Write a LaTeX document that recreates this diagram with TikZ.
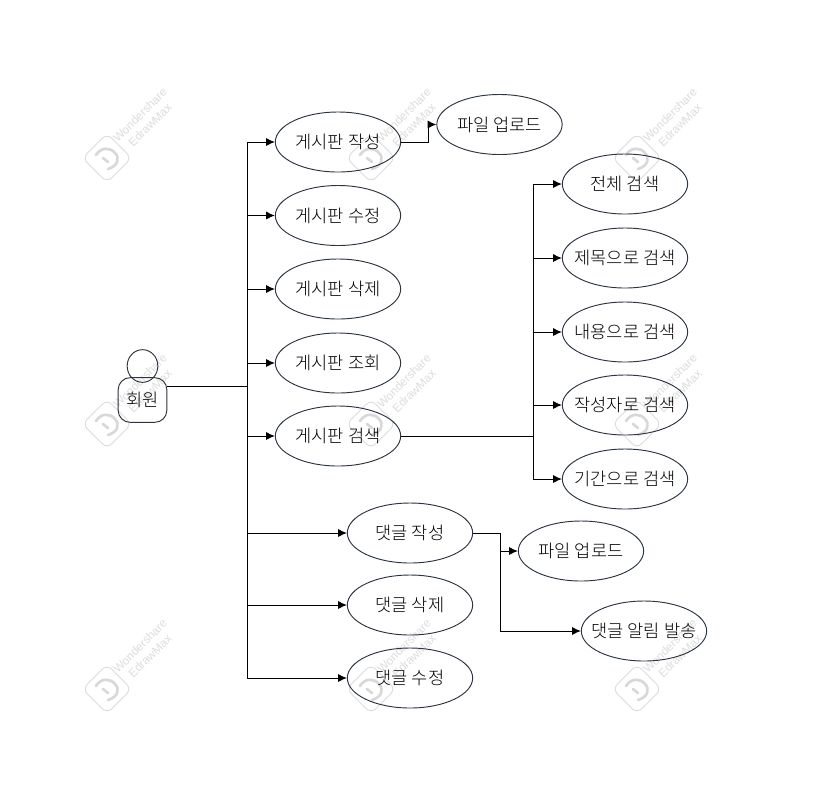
\documentclass[tikz,border=0pt]{standalone}
\usepackage{fontspec}
\setmainfont{Noto Sans CJK KR Light}
\newfontfamily\wmfont{Liberation Sans}
\usetikzlibrary{arrows.meta,shapes.geometric}
\definecolor{edgeink}{HTML}{2B3440}
\definecolor{wm}{HTML}{DDDDDD}
\definecolor{wmdark}{HTML}{D8D8D8}
\newcommand{\lbl}[1]{\makebox[0pt][c]{#1}}
\tikzset{
  x=0.75pt,y=-0.75pt,
  usecase/.style={draw=edgeink,line width=0.7pt,ellipse,minimum width=94pt,minimum height=45pt,inner sep=0pt,font=\fontsize{13.2}{15}\selectfont},
  wire/.style={draw=black,line width=0.75pt},
  arr/.style={wire,-{Latex[length=6.5pt,width=6pt]}},
  wmtext/.style={text=wm,font=\wmfont\fontsize{8.8}{10.5}\selectfont,rotate=45,align=center,inner sep=0pt},
  wmbox/.style={draw=wm,line width=0.7pt,rounded corners=5pt,rotate=45,minimum width=26pt,minimum height=26pt,inner sep=0pt},
  wmarc/.style={draw=wmdark,line width=2pt,line cap=round}
}
\newcommand{\wmark}[3]{%
  \node[wmbox] (wb#3) at (#1,#2) {};
  \draw[wmarc,shift={(wb#3.center)}] (-11,-3) .. controls (-6,-11) and (3,-11) .. (8,-5) .. controls (13,0) and (11,8) .. (1,11);
  \draw[wmarc,shift={(wb#3.center)}] (-4,0) -- (1,4);
  \node[wmtext] (wt#3) at ([shift={(38,-38)}]wb#3.center) {Wondershare\\EdrawMax};
}
\begin{document}
\begin{tikzpicture}
\useasboundingbox (0,0) rectangle (828,794);
\fill[white] (0,0) rectangle (828,794);
\wmark{107}{158}{a}
\wmark{371}{158}{b}
\wmark{637}{158}{c}
\wmark{107}{424}{d}
\wmark{371}{424}{e}
\wmark{637}{424}{f}
\wmark{107}{689}{g}
\wmark{371}{689}{h}
\wmark{637}{689}{i}

\node[draw=edgeink,line width=0.7pt,ellipse,minimum width=23pt,minimum height=24.5pt,inner sep=0pt] (head) at (142.5,366) {};
\node[draw=edgeink,line width=0.7pt,rounded corners=9pt,minimum width=36.5pt,minimum height=33.5pt,inner sep=0pt,font=\fontsize{13.2}{15}\selectfont] (actor) at (142.5,400) {\lbl{회원}};

\node[usecase] (b1) at (338,142) {\lbl{게시판 작성}};
\node[usecase] (b2) at (338,215.5) {\lbl{게시판 수정}};
\node[usecase] (b3) at (338,289) {\lbl{게시판 삭제}};
\node[usecase] (b4) at (338,363) {\lbl{게시판 조회}};
\node[usecase] (b5) at (338,436) {\lbl{게시판 검색}};
\node[usecase] (up1) at (499.5,124.5) {\lbl{파일 업로드}};
\node[usecase] (s1) at (625,184) {\lbl{전체 검색}};
\node[usecase] (s2) at (625,258) {\lbl{제목으로 검색}};
\node[usecase] (s3) at (625,332) {\lbl{내용으로 검색}};
\node[usecase] (s4) at (625,405) {\lbl{작성자로 검색}};
\node[usecase] (s5) at (625,479) {\lbl{기간으로 검색}};
\node[usecase] (c1) at (410,533) {\lbl{댓글 작성}};
\node[usecase] (c2) at (410,605) {\lbl{댓글 삭제}};
\node[usecase] (c3) at (410,678) {\lbl{댓글 수정}};
\node[usecase] (up2) at (581,551) {\lbl{파일 업로드}};
\node[usecase] (alarm) at (644,631) {\lbl{댓글 알림 발송}};

\coordinate (aout) at (167,386);
\coordinate (bus) at (247.5,386);
\coordinate (sbus) at (533.5,436);
\coordinate (cbus) at (500.5,533);
\coordinate (bout) at (428.5,142);
\draw[wire] (aout) -- (bus);
\draw[arr] (bus) |- (b1.west);
\draw[arr] (bus) |- (b2.west);
\draw[arr] (bus) |- (b3.west);
\draw[arr] (bus) |- (b4.west);
\draw[arr] (bus) |- (b5.west);
\draw[arr] (bus) |- (c1.west);
\draw[arr] (bus) |- (c2.west);
\draw[arr] (bus) |- (c3.west);
\draw[arr] (b1.east) -- (bout) |- (up1.west);
\draw[wire] (b5.east) -- (sbus);
\draw[arr] (sbus) |- (s1.west);
\draw[arr] (sbus) |- (s2.west);
\draw[arr] (sbus) |- (s3.west);
\draw[arr] (sbus) |- (s4.west);
\draw[arr] (sbus) |- (s5.west);
\draw[wire] (c1.east) -- (cbus);
\draw[arr] (cbus) |- (up2.west);
\draw[arr] (cbus) |- (alarm.west);
\end{tikzpicture}
\end{document}
